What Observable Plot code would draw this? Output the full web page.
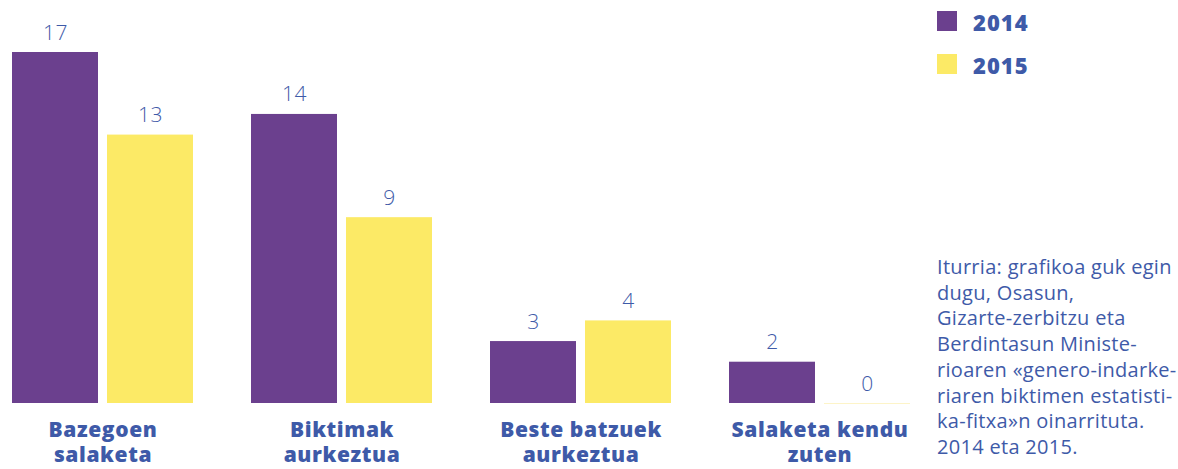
<!DOCTYPE html>
<html>
<head>
<meta charset="utf-8">
<script src="https://cdn.jsdelivr.net/npm/d3@7"></script>
<script src="https://cdn.jsdelivr.net/npm/@observablehq/plot@0.6"></script>
<style>
  html, body { margin: 0; padding: 0; background: #fff; overflow: hidden; }
  #wrap { position: relative; width: 1178px; height: 469px; overflow: hidden; font-family: "Open Sans", sans-serif; }
  #legend { position: absolute; left: 937px; top: 0; }
  .sw { position: absolute; left: 0; width: 20px; height: 20px; }
  .lt { position: absolute; left: 36px; font-weight: 800; font-size: 22px; letter-spacing: 1px; color: #3e5aa8; line-height: 20px; white-space: nowrap; }
  #source { position: absolute; left: 937px; top: 254px; font-size: 20px; letter-spacing: 0.3px; line-height: 25.7px; color: #3e5aa8; white-space: pre; }
</style>
</head>
<body>
<div id="wrap">
  <div id="chart"></div>
  <div id="legend"></div>
  <div id="source"></div>
</div>
<script>
const categories = ["Bazegoen salaketa", "Biktimak aurkeztua", "Beste batzuek aurkeztua", "Salaketa kendu zuten"];
const labelLine1 = ["Bazegoen", "Biktimak", "Beste batzuek", "Salaketa kendu"];
const labelLine2 = ["salaketa", "aurkeztua", "aurkeztua", "zuten"];
const years = ["2014", "2015"];
const values2014 = [17, 14, 3, 2];
const values2015 = [13, 9, 4, 0];
const colors = ["#6b408e", "#fcea66"];
const sourceLines = [
  "Iturria: grafikoa guk egin",
  "dugu, Osasun,",
  "Gizarte-zerbitzu eta",
  "Berdintasun Ministe-",
  "rioaren «genero-indarke-",
  "riaren biktimen estatisti-",
  "ka-fitxa»n oinarrituta.",
  "2014 eta 2015."
];

const textColor = "#3e5aa8";
const data = [];
categories.forEach((c, i) => {
  data.push({category: c, year: years[0], value: values2014[i]});
  data.push({category: c, year: years[1], value: values2015[i]});
});
const labelData = categories.map((c, i) => ({category: c, l1: labelLine1[i], l2: labelLine2[i]}));

const catStyle = {fill: textColor, fontSize: 21, fontWeight: 800, lineAnchor: "top", frameAnchor: "bottom"};

const chart = Plot.plot({
  width: 1178,
  height: 469,
  marginLeft: 12,
  marginRight: 268,
  marginTop: 52,
  marginBottom: 66,
  style: {fontFamily: "'Open Sans', sans-serif", background: "transparent", letterSpacing: "0.6px"},
  fx: {domain: categories, paddingInner: 0.243, paddingOuter: 0, axis: null, label: null},
  x: {domain: years, paddingInner: 0.1, paddingOuter: 0, axis: null},
  y: {domain: [0, 17], axis: null},
  color: {domain: years, range: colors},
  marks: [
    Plot.barY(data, {fx: "category", x: "year", y: "value", fill: "year"}),
    Plot.tickY(data.filter(d => d.value === 0), {fx: "category", x: "year", y: "value", stroke: "#fdf4c8", strokeWidth: 1}),
    Plot.text(data, {fx: "category", x: "year", y: "value", text: d => String(d.value), lineAnchor: "bottom", dy: -13, fill: textColor, fontSize: 21, fontWeight: 300}),
    Plot.text(labelData, {fx: "category", text: "l1", dy: 19, ...catStyle}),
    Plot.text(labelData, {fx: "category", text: "l2", dy: 44, ...catStyle})
  ]
});
document.getElementById("chart").appendChild(chart);

const legend = document.getElementById("legend");
years.forEach((y, i) => {
  const top = 11 + i * 43;
  const sw = document.createElement("div");
  sw.className = "sw";
  sw.style.top = top + "px";
  sw.style.background = colors[i];
  legend.appendChild(sw);
  const t = document.createElement("div");
  t.className = "lt";
  t.style.top = (top + 1) + "px";
  t.textContent = y;
  legend.appendChild(t);
});
document.getElementById("source").textContent = sourceLines.join("\n");
</script>
</body>
</html>
